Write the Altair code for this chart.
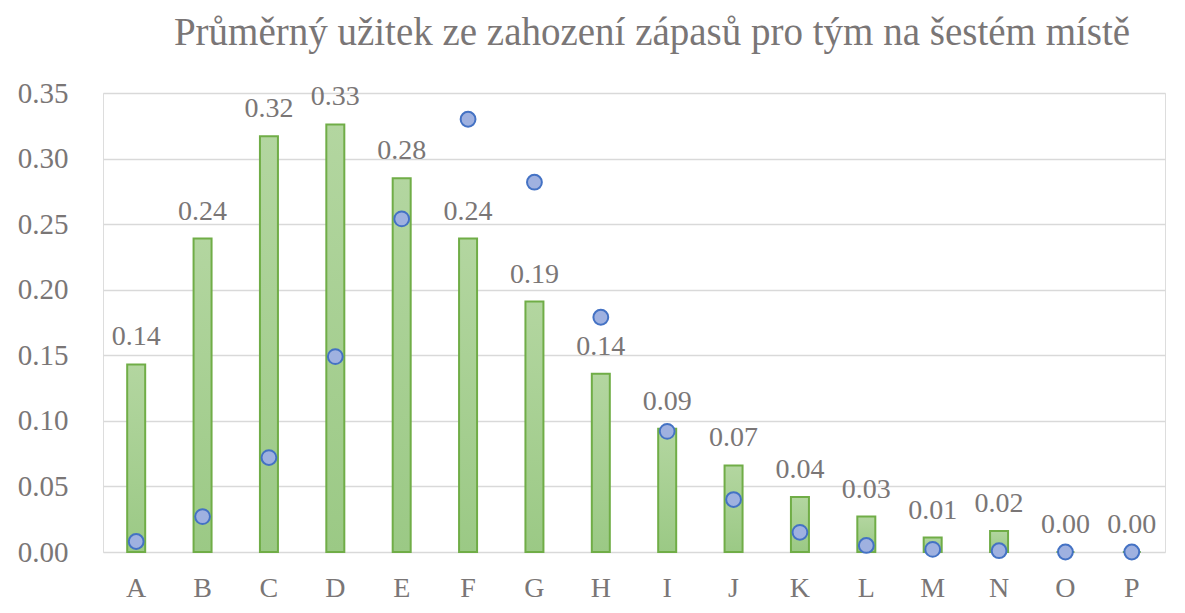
import altair as alt
import pandas as pd

categories = list("ABCDEFGHIJKLMNOP")
bar_values = [0.143, 0.239, 0.317, 0.326, 0.285, 0.239, 0.191, 0.136,
              0.094, 0.066, 0.042, 0.027, 0.011, 0.016, 0.000, 0.000]
point_values = [0.008, 0.027, 0.072, 0.149, 0.254, 0.330, 0.282, 0.179,
                0.092, 0.040, 0.015, 0.005, 0.002, 0.001, 0.000, 0.000]

df = pd.DataFrame({"cat": categories, "bar": bar_values, "pt": point_values})

FONT = "Liberation Serif"
GRAY = "#7a7676"

x = alt.X("cat:N", sort=categories, title=None,
          scale=alt.Scale(paddingInner=0, paddingOuter=0),
          axis=alt.Axis(labelAngle=0, ticks=False, domain=False, labelPadding=22,
                        labelFont=FONT, labelFontSize=28, labelColor=GRAY))
y = alt.Y("bar:Q", title=None,
          scale=alt.Scale(domain=[0, 0.35], nice=False),
          axis=alt.Axis(values=[0, 0.05, 0.1, 0.15, 0.2, 0.25, 0.3, 0.35], format=".2f",
                        ticks=False, tickSize=0, domain=False, labelPadding=35,
                        labelFont=FONT, labelFontSize=29, labelColor=GRAY,
                        gridColor="#d9d9d9", gridWidth=1.5))

base = alt.Chart(df)

bars = base.mark_bar(
    width=18,
    stroke="#70ad47",
    strokeWidth=2,
    fill=alt.Gradient(
        gradient="linear",
        stops=[alt.GradientStop(color="#b3d6a0", offset=0),
               alt.GradientStop(color="#9bc985", offset=1)],
        x1=0, x2=0, y1=0, y2=1,
    ),
).encode(x=x, y=y)

labels = base.mark_text(
    dy=-19, baseline="alphabetic", font=FONT, fontSize=28, color=GRAY
).encode(x=alt.X("cat:N", sort=categories), y=alt.Y("bar:Q"),
         text=alt.Text("bar:Q", format=".2f"))

points = base.mark_point(
    filled=True, size=220, fill="#9fb1e0", stroke="#4472c4", strokeWidth=2, opacity=1
).encode(x=alt.X("cat:N", sort=categories), y=alt.Y("pt:Q"))

chart = alt.layer(bars, labels, points).properties(
    width=1062,
    height=459,
    title=alt.TitleParams(
        "Průměrný užitek ze zahození zápasů pro tým na šestém místě",
        font=FONT, fontSize=39, fontWeight="normal", color=GRAY,
        anchor="middle", dx=18, offset=26,
    ),
    autosize=alt.AutoSizeParams(type="none"),
    padding={"left": 95, "top": 85, "right": 12, "bottom": 55},
).configure_view(stroke=None).configure(background="white")

chart.save("out.html", embed_options={"renderer": "svg", "actions": False})
